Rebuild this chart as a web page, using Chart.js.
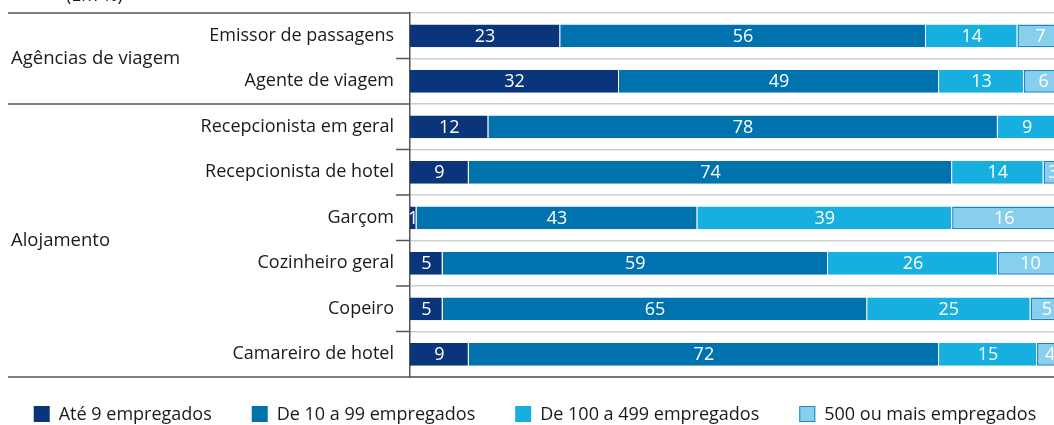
<!DOCTYPE html>
<html lang="pt-BR">
<head>
<meta charset="utf-8">
<title>Empregados por porte do estabelecimento</title>
<script src="https://cdn.jsdelivr.net/npm/chart.js@4/dist/chart.umd.min.js"></script>
<style>
  html, body { margin: 0; padding: 0; background: #fff; }
  #wrap { position: relative; width: 1054px; height: 425px; }
</style>
</head>
<body>
<div id="wrap"><canvas id="grafico"></canvas></div>
<script>
/* ---------- dados (em %) ---------- */
const ocupacoes = [
  "Emissor de passagens", "Agente de viagem",
  "Recepcionista em geral", "Recepcionista de hotel", "Garçom",
  "Cozinheiro geral", "Copeiro", "Camareiro de hotel"
];
const ate9      = [23, 32, 12,  9,  1,  5,  5,  9];
const de10a99   = [56, 49, 78, 74, 43, 59, 65, 72];
const de100a499 = [14, 13,  9, 14, 39, 26, 25, 15];
const mais500   = [ 7,  6,  1,  3, 16, 10,  5,  4];

const series = ["Até 9 empregados", "De 10 a 99 empregados", "De 100 a 499 empregados", "500 ou mais empregados"];
const grupos = [
  { nome: "Agências de viagem", de: 0, ate: 1 },
  { nome: "Alojamento",         de: 2, ate: 7 }
];
const subtitulo = "(Em %)";

const FONTE = "'Open Sans', 'Noto Sans', sans-serif";
const cores = ["#0b357a", "#0073af", "#16afdf", "#88cfee"];

/* ---------- plugin: painel da esquerda, rótulos e legenda ---------- */
const painel = {
  id: "painel",
  afterDraw(chart) {
    const { ctx, chartArea: ca, scales: { y } } = chart;
    const n = ocupacoes.length;
    const limite = i => {
      if (i <= 0) return ca.top;
      if (i >= n) return ca.bottom;
      return (y.getPixelForValue(i - 1) + y.getPixelForValue(i)) / 2;
    };
    ctx.save();

    // subtítulo cortado no topo
    ctx.fillStyle = "#1a1a1a";
    ctx.font = "18px " + FONTE;
    ctx.textAlign = "left";
    ctx.textBaseline = "alphabetic";
    ctx.fillText(subtitulo, 66, 1);

    // linhas de grupo
    ctx.strokeStyle = "#555";
    ctx.lineWidth = 1.5;
    const inicioGrupo = new Set(grupos.map(g => g.de));
    for (let i = 0; i <= n; i++) {
      const yy = limite(i);
      ctx.beginPath();
      if (i === n) {
        ctx.moveTo(8, yy); ctx.lineTo(chart.width, yy);
      } else if (inicioGrupo.has(i)) {
        ctx.moveTo(8, yy); ctx.lineTo(ca.left, yy);
      } else {
        ctx.moveTo(ca.left - 14, yy); ctx.lineTo(ca.left, yy);
      }
      ctx.stroke();
    }

    // nomes dos grupos
    ctx.font = "18.5px " + FONTE;
    ctx.fillStyle = "#1a1a1a";
    ctx.textBaseline = "middle";
    grupos.forEach(g => {
      const meio = (limite(g.de) + limite(g.ate + 1)) / 2;
      ctx.fillText(g.nome, 11, meio);
    });

    // valores dentro das barras
    ctx.font = "18px " + FONTE;
    ctx.fillStyle = "#fff";
    ctx.textAlign = "center";
    chart.data.datasets.forEach((ds, d) => {
      chart.getDatasetMeta(d).data.forEach((bar, i) => {
        const v = ds.data[i];
        if (!v) return;
        const cx = (bar.x + bar.base) / 2;
        ctx.fillText(String(v), cx, bar.y + 1);
      });
    });

    // legenda
    const caixa = 16, vao = 9, espaco = 40;
    ctx.font = "18px " + FONTE;
    ctx.textAlign = "left";
    const larguras = series.map(s => caixa + vao + ctx.measureText(s).width);
    const total = larguras.reduce((a, b) => a + b, 0) + espaco * (series.length - 1);
    let x = (chart.width - total) / 2 + 8;
    const ly = 414;
    series.forEach((s, i) => {
      ctx.fillStyle = cores[i];
      ctx.fillRect(x, ly - caixa / 2, caixa, caixa);
      if (i === 3) {
        ctx.strokeStyle = "#1d87c4";
        ctx.lineWidth = 1;
        ctx.strokeRect(x + 0.5, ly - caixa / 2 + 0.5, caixa - 1, caixa - 1);
      }
      ctx.fillStyle = "#1a1a1a";
      ctx.fillText(s, x + caixa + vao, ly + 1);
      x += larguras[i] + espaco;
    });

    ctx.restore();
  }
};

const valores = [ate9, de10a99, de100a499, mais500];

new Chart(document.getElementById("grafico"), {
  type: "bar",
  data: {
    labels: ocupacoes,
    datasets: series.map((s, i) => ({
      label: s,
      data: valores[i],
      backgroundColor: cores[i],
      borderColor: i === 3 ? "#1d87c4" : "rgba(255,255,255,0.35)",
      borderWidth: i === 3 ? 1.5 : { right: 1 },
      borderSkipped: false,
      barPercentage: 0.5,
      categoryPercentage: 1
    }))
  },
  options: {
    indexAxis: "y",
    responsive: true,
    maintainAspectRatio: false,
    animation: false,
    layout: { padding: { top: 13, bottom: 48, left: 0, right: 0 } },
    plugins: { legend: { display: false }, tooltip: { enabled: false } },
    scales: {
      x: { stacked: true, display: false, min: 0, max: 98.6 },
      y: {
        stacked: true,
        afterFit(scale) { scale.width = 410; scale.paddingTop = 0; scale.paddingBottom = 0; },
        grid: { color: "#cfcfcf", lineWidth: 1.5, drawTicks: false, offset: true },
        border: { display: true, color: "#555", width: 1.5 },
        ticks: { color: "#1a1a1a", padding: 16, font: { family: FONTE, size: 18 } }
      }
    }
  },
  plugins: [painel]
});
</script>
</body>
</html>
